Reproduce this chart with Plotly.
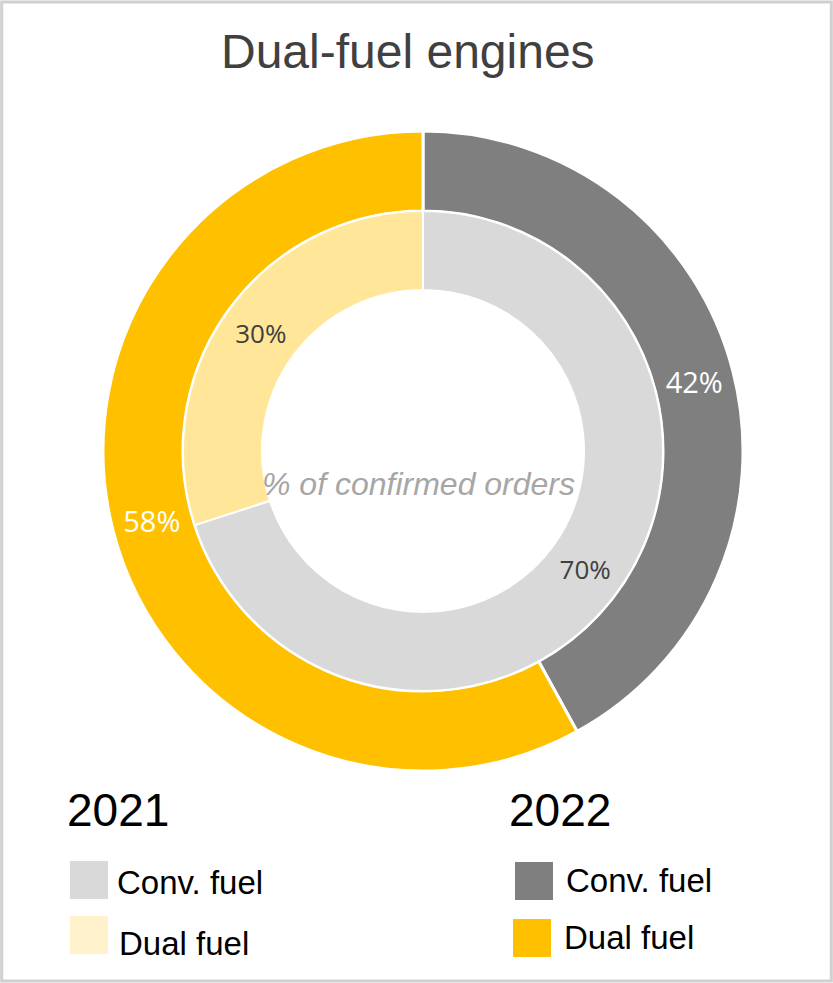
import plotly.graph_objects as go

categories = ["Conv. fuel", "Dual fuel"]
values_2021 = [70, 30]
values_2022 = [42, 58]
years = ["2021", "2022"]
colors_2021 = ["#D9D9D9", "#FFE699"]
colors_2022 = ["#7F7F7F", "#FFC000"]
legend_colors_2021 = ["#D9D9D9", "#FFF2CC"]
legend_colors_2022 = ["#7F7F7F", "#FFC000"]

W, H = 833, 983
cx, cy = 423, 451
R_out, R_mid, R_in = 320, 240, 161

def dom(r):
    return dict(x=[(cx - r) / W, (cx + r) / W], y=[(H - cy - r) / H, (H - cy + r) / H])

fig = go.Figure()
fig.add_trace(go.Pie(
    labels=categories, values=values_2022, sort=False, direction="clockwise", rotation=0,
    hole=R_mid / R_out, domain=dom(R_out),
    marker=dict(colors=colors_2022, line=dict(color="white", width=3)),
    texttemplate="%{value}%", textposition="inside", insidetextorientation="horizontal",
    textfont=dict(family="Open Sans, Arial", size=29, color="white"),
    showlegend=False, hoverinfo="label+value"))
fig.add_trace(go.Pie(
    labels=categories, values=values_2021, sort=False, direction="clockwise", rotation=0,
    hole=R_in / R_mid, domain=dom(R_mid),
    marker=dict(colors=colors_2021, line=dict(color="white", width=2)),
    texttemplate="%{value}%", textposition="inside", insidetextorientation="horizontal",
    textfont=dict(family="Open Sans, Arial", size=26, color="#404040"),
    showlegend=False, hoverinfo="label+value"))

def px(x):
    return x / W

def py(y):
    return 1 - y / H

annotations = [
    dict(text="Dual-fuel engines", x=px(408), y=py(52), font=dict(family="Liberation Sans, Arial", size=48, color="#404040")),
    dict(text="<i>% of confirmed orders</i>", x=px(418), y=py(484), font=dict(family="Liberation Sans, Arial", size=32, color="#A6A6A6")),
    dict(text=years[0], x=px(65), y=py(810), xanchor="left", font=dict(family="Liberation Sans, Arial", size=46, color="#000000")),
    dict(text=years[1], x=px(507), y=py(810), xanchor="left", font=dict(family="Liberation Sans, Arial", size=46, color="#000000")),
]
shapes = [dict(type="rect", xref="paper", yref="paper", x0=0.002, x1=0.998, y0=0.002, y1=0.998,
               line=dict(color="#D0D0D0", width=3), fillcolor="rgba(0,0,0,0)")]

legend_pos = [
    (70, 861, legend_colors_2021[0], categories[0], 115, 882),
    (70, 916, legend_colors_2021[1], categories[1], 117, 943),
    (515, 862, legend_colors_2022[0], categories[0], 564, 880),
    (513, 919, legend_colors_2022[1], categories[1], 562, 937),
]
for x0, y0, col, lab, tx, ty in legend_pos:
    shapes.append(dict(type="rect", xref="paper", yref="paper", x0=px(x0), x1=px(x0 + 38),
                       y0=py(y0 + 38), y1=py(y0), fillcolor=col, line=dict(width=0)))
    annotations.append(dict(text=lab, x=px(tx), y=py(ty), xanchor="left",
                            font=dict(family="Liberation Sans, Arial", size=33, color="#000000")))

for a in annotations:
    a.update(xref="paper", yref="paper", showarrow=False)
    a.setdefault("xanchor", "center")
    a.setdefault("yanchor", "middle")

fig.update_layout(width=W, height=H, margin=dict(l=0, r=0, t=0, b=0),
                  paper_bgcolor="white", plot_bgcolor="white",
                  annotations=annotations, shapes=shapes)
fig.write_html("out.html", config={"displayModeBar": False},
               post_script="document.body.style.margin='0';document.body.style.overflow='hidden';")
